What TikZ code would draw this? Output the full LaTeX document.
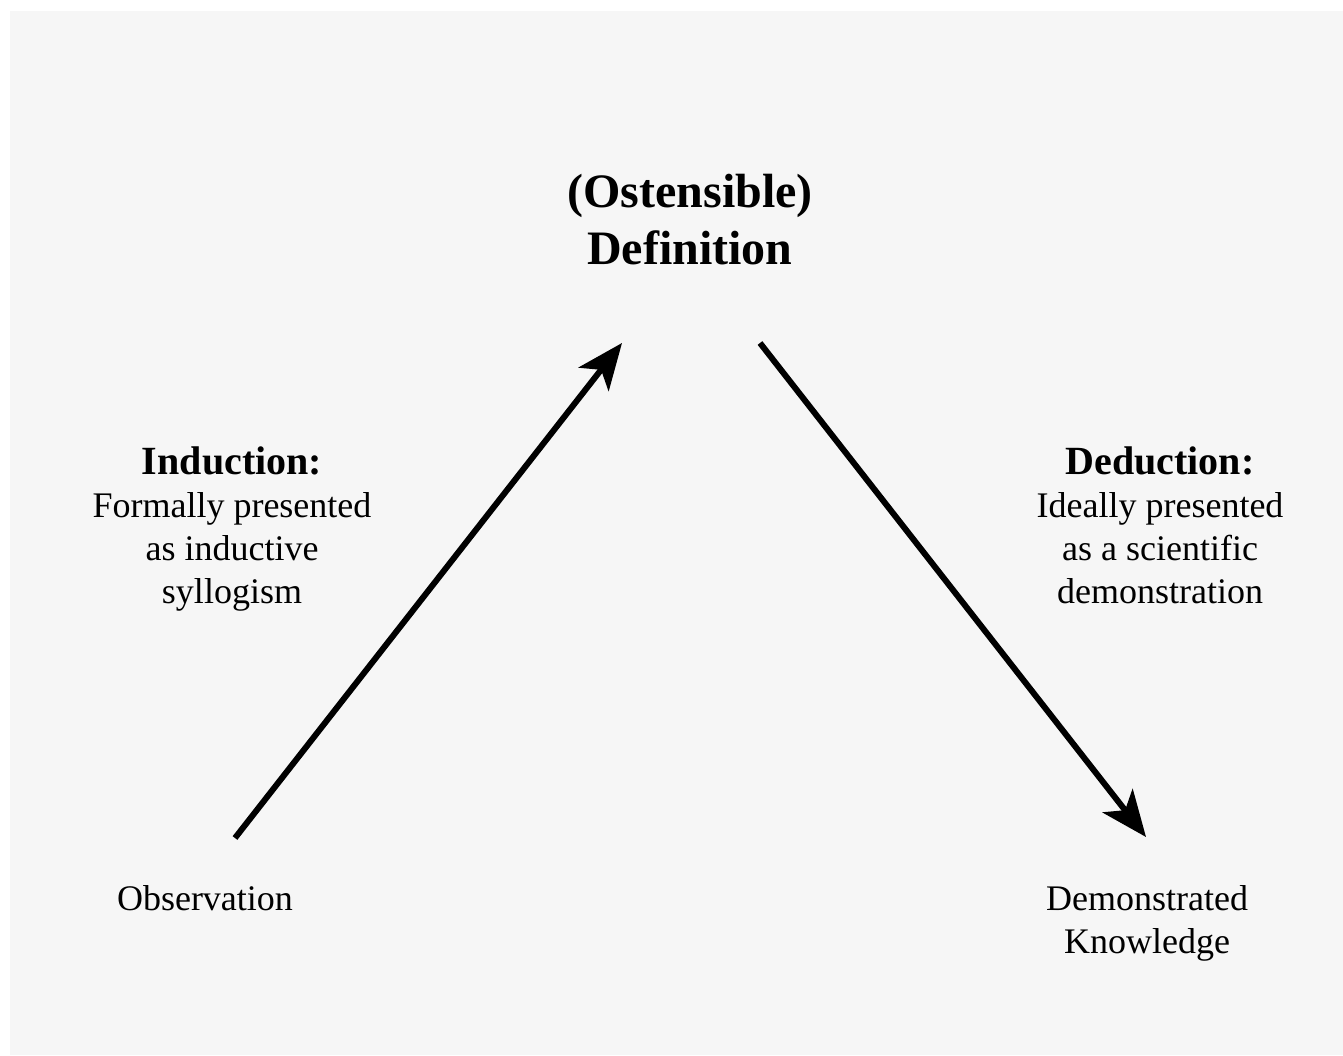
\documentclass[tikz,border=0pt]{standalone}
\usepackage{fontspec}
\setmainfont{Liberation Serif}
\usepackage{tikz}
\usetikzlibrary{arrows.meta,positioning}
\definecolor{paper}{HTML}{F6F6F6}
\tikzset{
    label text/.style={align=center,inner sep=0pt,font=\fontsize{36}{43}\selectfont},
    head text/.style={align=center,inner sep=0pt,font=\bfseries\fontsize{48}{57}\selectfont},
    step arrow/.style={line width=6pt,-{Stealth[length=46pt,width=38pt,inset=12pt]}}
}

\begin{document}
\begin{tikzpicture}[x=1pt,y=-1pt]
\useasboundingbox (0,0) rectangle (1343,1055); % page
\fill[paper] (10,11) rectangle (1343,1055); % grey sheet
\node[head text] (def) at (690,220) {(Ostensible)\\Definition}; % top corner
\node[label text] (obs) at (205,898) {Observation}; % left corner
\node[label text] (know) at (1147,923) {Demonstrated\\Knowledge}; % right corner
\node[label text] (ind) at (232,529) {{\bfseries\fontsize{40}{43}\selectfont Induction:}\\Formally presented\\as inductive\\syllogism}; % left side
\node[label text] (ded) at (1160,525) {{\bfseries\fontsize{40}{43}\selectfont Deduction:}\\Ideally presented\\as a scientific\\demonstration}; % right side
\coordinate (obs top) at (235,838); % start of induction
\coordinate (def left) at (622,343); % end of induction
\coordinate (def right) at (760,343); % start of deduction
\coordinate (know top) at (1146,837); % end of deduction
\draw[step arrow] (obs top) -- (def left); % induction arrow
\draw[step arrow] (def right) -- (know top); % deduction arrow
\end{tikzpicture}
\end{document}
